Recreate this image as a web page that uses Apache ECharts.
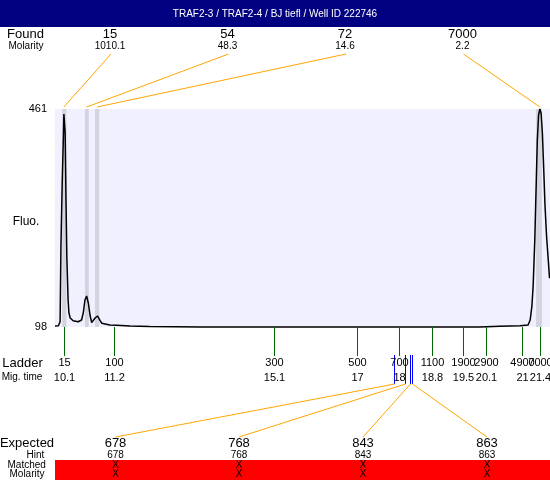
<!DOCTYPE html>
<html><head><meta charset="utf-8">
<script src="https://cdn.jsdelivr.net/npm/echarts@6/dist/echarts.min.js"></script>
<style>html,body{margin:0;padding:0;background:#fff}#c{width:550px;height:480px}</style>
</head><body><div id="c"></div>
<script>
// ---- data ----
const chartTitle = 'TRAF2-3 / TRAF2-4 / BJ tiefl / Well ID 222746';
const yAxisTitle = 'Fluo.';
const ladderSizes = ['15','100','300','500','700','1100','1900','2900','4900','7000'];
const ladderTimes = [10.10, 11.27, 15.08, 17.06, 18.04, 18.84, 19.56, 20.12, 20.97, 21.40];
const ladderTimeLabels = ['10.1','11.2','15.1','17','18','18.8','19.5','20.1','21','21.4'];
const foundSizes = ['15','54','72','7000'];
const foundMolarity = ['1010.1','48.3','14.6','2.2'];
const foundTimes = [10.09, 10.63, 10.88, 21.39];
const foundBandStart = [10.05, 10.59, 10.83, 21.30];
const foundBandEnd = [10.15, 10.68, 10.93, 21.44];
const expectedSizes = ['678','768','843','863'];
const expectedHints = ['678','768','843','863'];
const expectedTimes = [17.93, 18.18, 18.31, 18.36];
const matchedMarks = ['X','X','X','X'];
const molarityMarks = ['X','X','X','X'];
const fluoRange = [98, 461];
const timeRange = [9.879, 21.631];
const traceTime = [9.88, 9.96, 10.00, 10.02, 10.05, 10.08, 10.09, 10.12, 10.14, 10.16, 10.19, 10.21, 10.24, 10.31, 10.43, 10.51, 10.55, 10.59, 10.63, 10.67, 10.71, 10.75, 10.79, 10.83, 10.89, 10.95, 10.99, 11.07, 11.18, 11.34, 11.66, 12.13, 13.32, 15.00, 17.00, 18.69, 19.96, 20.44, 20.68, 20.92, 21.11, 21.16, 21.20, 21.23, 21.27, 21.30, 21.33, 21.36, 21.39, 21.42, 21.45, 21.48, 21.51, 21.55, 21.59, 21.62];
const traceFluo = [99.7, 100.2, 106.8, 231.7, 337.8, 421, 452.6, 421, 309.5, 215, 143, 121.3, 113, 108.5, 106.8, 109.7, 121.3, 143, 149.6, 138, 118, 105.2, 106.8, 113, 116.3, 108.5, 104.2, 103, 101.3, 100.8, 99.7, 98.8, 98.2, 98.1, 98.1, 98.0, 98.2, 99.2, 99.7, 100.2, 101.3, 109.7, 131.8, 165.1, 242.9, 326.1, 409.4, 451, 461, 453.8, 421, 364.9, 304, 248.3, 209.6, 179.1];

// ---- chart ----
const FONT = '"Liberation Sans", Arial, Helvetica, sans-serif';
const chart = echarts.init(document.getElementById('c'), null, {renderer: 'canvas'});
chart.setOption({
  animation: false,
  grid: {left: 55, right: 0, top: 109, bottom: 153, show: true, backgroundColor: '#F0F0FF', borderWidth: 0, outerBoundsMode: 'none'},
  xAxis: {
    type: 'value', min: timeRange[0], max: timeRange[1],
    axisLine: {show: false}, splitLine: {show: false}, axisTick: {show: false}, axisLabel: {show: false}
  },
  yAxis: {
    type: 'value', min: fluoRange[0], max: fluoRange[1],
    axisLine: {show: false}, axisTick: {show: false}, splitLine: {show: false},
    axisLabel: {customValues: fluoRange, margin: 8, fontSize: 11, color: '#000', fontFamily: FONT}
  },
  series: [{
    type: 'line',
    data: traceTime.map((t, i) => [t, traceFluo[i]]),
    showSymbol: false, symbol: 'none', clip: false, z: 5,
    lineStyle: {color: '#000', width: 1.5},
    markArea: {
      silent: true, itemStyle: {color: '#D4D4E0'}, label: {show: false},
      data: foundBandStart.map((s, i) => [{xAxis: s}, {xAxis: foundBandEnd[i]}])
    }
  }]
});

// ---- annotations ----
const foundCols = [110, 227.5, 345, 462.5];
const expCols = [115.5, 239, 363, 487];
const g = [];
function txt(x, y, s, size, color) {
  g.push({type: 'text', x: x, y: y, z: 10, style: {text: s, fill: color || '#000', fontSize: size, fontFamily: FONT, align: 'center', verticalAlign: 'middle'}});
}
function ln(x1, y1, x2, y2, color) {
  g.push({type: 'line', z: 9, shape: {x1: x1, y1: y1, x2: x2, y2: y2}, style: {stroke: color, lineWidth: 1}});
}
function px(t, v) { return chart.convertToPixel({gridIndex: 0}, [t, v]); }

g.push({type: 'rect', z: 8, shape: {x: 0, y: 0, width: 550, height: 27}, style: {fill: '#000080'}});
txt(275, 14.5, chartTitle, 10, '#fff');
g.push({type: 'rect', z: 8, shape: {x: 55, y: 460, width: 495, height: 20}, style: {fill: '#FF0000'}});

txt(26, 222, yAxisTitle, 12);
txt(25.5, 34.5, 'Found', 13);
txt(26, 46.5, 'Molarity', 10);
txt(22.5, 363, 'Ladder', 13);
txt(22, 377.5, 'Mig. time', 10);
txt(27, 443, 'Expected', 13);
txt(35.5, 455, 'Hint', 10);
txt(26.7, 465, 'Matched', 10);
txt(27, 474.5, 'Molarity', 10);

// ladder ticks and labels
const bottomY = px(timeRange[0], fluoRange[0])[1];
ladderTimes.forEach((t, i) => {
  const x = Math.round(px(t, fluoRange[0])[0]) + 0.5;
  ln(x, bottomY, x, bottomY + 29, '#006600');
  txt(x, 363, ladderSizes[i], 11);
  txt(x, 377.5, ladderTimeLabels[i], 11);
});

const topY = px(timeRange[0], fluoRange[1])[1];
foundSizes.forEach((s, i) => {
  txt(foundCols[i], 34.5, s, 13);
  txt(foundCols[i], 46.5, foundMolarity[i], 10);
  const x = px(foundTimes[i], fluoRange[1])[0];
  ln(foundCols[i] + 1, 54, x, topY - 2, '#FFA500');
});
expectedSizes.forEach((s, i) => {
  txt(expCols[i], 443, s, 13);
  txt(expCols[i], 455, expectedHints[i], 10);
  txt(expCols[i], 465, matchedMarks[i], 10);
  txt(expCols[i], 474.5, molarityMarks[i], 10);
  const bx = Math.round(px(expectedTimes[i], fluoRange[0])[0]) + 0.5;
  ln(bx, 355, bx, 384, '#0000FF');
  ln(bx, 384, expCols[i], 437, '#FFA500');
});
chart.setOption({graphic: g});
</script></body></html>
